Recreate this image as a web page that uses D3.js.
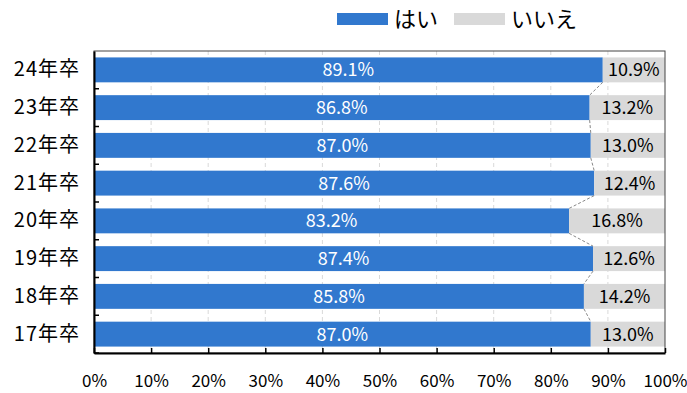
<!DOCTYPE html>
<html>
<head>
<meta charset="utf-8">
<script src="https://cdn.jsdelivr.net/npm/d3@7"></script>
<style>
  body { margin: 0; background: #fff; }
  text { font-family: "Noto Sans CJK JP", "Noto Sans", sans-serif; }
</style>
</head>
<body>
<div id="chart"></div>
<script>
// data
const categories = ['24年卒', '23年卒', '22年卒', '21年卒', '20年卒', '19年卒', '18年卒', '17年卒'];
const yesValues = [89.1, 86.8, 87.0, 87.6, 83.2, 87.4, 85.8, 87.0];
const noValues = [10.9, 13.2, 13.0, 12.4, 16.8, 12.6, 14.2, 13.0];
const seriesNames = ['はい', 'いいえ'];
const xTicks = [0, 10, 20, 30, 40, 50, 60, 70, 80, 90, 100];

let visConfig = {
  width: 687,
  height: 393,
  padding: { left: 94, top: 51, right: 22, bottom: 40 }
};

const colors = ['#3178CE', '#D9D9D9'];

let svg = d3.select('#chart')
  .append('svg')
  .attr('width', visConfig.width)
  .attr('height', visConfig.height);

let xscale = d3.scaleLinear()
  .domain([0, 100])
  .range([visConfig.padding.left, visConfig.width - visConfig.padding.right]);

let yscale = d3.scaleBand()
  .domain(categories)
  .range([visConfig.padding.top, visConfig.height - visConfig.padding.bottom])
  .paddingInner(0.34)
  .paddingOuter(0.17);

let plotTop = visConfig.padding.top;
let plotBottom = visConfig.height - visConfig.padding.bottom;

// dashed gridlines
svg.append('g')
  .selectAll('line')
  .data(xTicks.slice(1, -1))
  .enter()
  .append('line')
  .attr('x1', d => xscale(d))
  .attr('x2', d => xscale(d))
  .attr('y1', plotTop)
  .attr('y2', plotBottom)
  .attr('stroke', '#d9d9d9')
  .attr('stroke-dasharray', '4,3');

// bars
let rows = categories.map((c, i) => ({ cat: c, yes: yesValues[i], no: noValues[i] }));

let groups = svg.selectAll('.row')
  .data(rows)
  .enter()
  .append('g')
  .attr('class', 'row');

groups.append('rect')
  .attr('x', xscale(0))
  .attr('y', d => yscale(d.cat))
  .attr('width', d => xscale(d.yes) - xscale(0))
  .attr('height', yscale.bandwidth())
  .attr('fill', colors[0]);

groups.append('rect')
  .attr('x', d => xscale(d.yes))
  .attr('y', d => yscale(d.cat))
  .attr('width', d => xscale(d.yes + d.no) - xscale(d.yes))
  .attr('height', yscale.bandwidth())
  .attr('fill', colors[1]);

groups.append('text')
  .attr('x', d => (xscale(0) + xscale(d.yes)) / 2)
  .attr('y', d => yscale(d.cat) + yscale.bandwidth() / 2)
  .attr('dy', '0.36em')
  .attr('text-anchor', 'middle')
  .attr('fill', '#fff')
  .style('font-size', '18px')
  .text(d => d.yes.toFixed(1) + '%');

groups.append('text')
  .attr('x', d => (xscale(d.yes) + xscale(d.yes + d.no)) / 2)
  .attr('y', d => yscale(d.cat) + yscale.bandwidth() / 2)
  .attr('dy', '0.36em')
  .attr('text-anchor', 'middle')
  .attr('fill', '#000')
  .style('font-size', '18px')
  .text(d => d.no.toFixed(1) + '%');

// series lines between adjacent bars
let pairs = d3.pairs(rows);
svg.append('g')
  .selectAll('line')
  .data(pairs)
  .enter()
  .append('line')
  .attr('x1', d => xscale(d[0].yes))
  .attr('y1', d => yscale(d[0].cat) + yscale.bandwidth())
  .attr('x2', d => xscale(d[1].yes))
  .attr('y2', d => yscale(d[1].cat))
  .attr('stroke', '#888')
  .attr('stroke-dasharray', '3,2');

// frame
svg.append('rect')
  .attr('x', xscale(0))
  .attr('y', plotTop)
  .attr('width', xscale(100) - xscale(0))
  .attr('height', plotBottom - plotTop)
  .attr('fill', 'none')
  .attr('stroke', '#444')
  .attr('stroke-width', 1);

// axes
let bottomAxis = d3.axisBottom(xscale)
  .tickValues(xTicks)
  .tickFormat(d => d + '%')
  .tickSizeInner(-5)
  .tickSizeOuter(0)
  .tickPadding(22);

let xaxis = svg.append('g')
  .attr('transform', `translate(0, ${plotBottom})`)
  .call(bottomAxis);
xaxis.select('.domain').attr('stroke', '#000').attr('stroke-width', 2);
xaxis.selectAll('.tick line').attr('stroke', '#000').attr('stroke-width', 1.5);
xaxis.selectAll('text')
  .style('font-size', '17px')
  .attr('fill', '#000')
  .style('font-family', '"Noto Sans CJK JP", sans-serif');

let leftAxis = d3.axisLeft(yscale)
  .tickSize(0)
  .tickPadding(14);

let yaxis = svg.append('g')
  .attr('transform', `translate(${xscale(0)}, 0)`)
  .call(leftAxis);
yaxis.select('.domain').attr('stroke', '#000').attr('stroke-width', 2);
yaxis.selectAll('text')
  .style('font-size', '20px')
  .style('letter-spacing', '1px')
  .attr('fill', '#000')
  .style('font-family', '"Noto Sans CJK JP", sans-serif');

// small category boundary ticks pointing inward
let bounds = d3.range(1, categories.length + 1).map(i => plotTop + i * (plotBottom - plotTop) / categories.length);
svg.append('g')
  .selectAll('line')
  .data(bounds)
  .enter()
  .append('line')
  .attr('x1', xscale(0))
  .attr('x2', xscale(0) + 5)
  .attr('y1', d => d)
  .attr('y2', d => d)
  .attr('stroke', '#000')
  .attr('stroke-width', 1.5);

// legend
let legend = svg.append('g')
  .attr('transform', 'translate(337, 19)');
let legendX = [0, 117];
let items = legend.selectAll('g')
  .data(seriesNames)
  .enter()
  .append('g')
  .attr('transform', (d, i) => `translate(${legendX[i]}, 0)`);
items.append('rect')
  .attr('x', 0)
  .attr('y', -6)
  .attr('width', 51)
  .attr('height', 12)
  .attr('fill', (d, i) => colors[i]);
items.append('text')
  .attr('x', 57)
  .attr('dy', '0.36em')
  .attr('fill', '#000')
  .style('font-size', '22px')
  .text(d => d);
</script>
</body>
</html>
